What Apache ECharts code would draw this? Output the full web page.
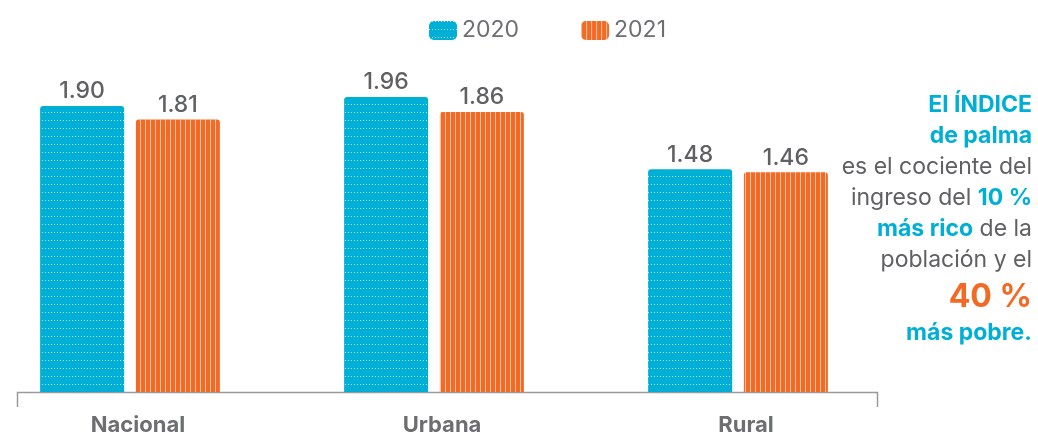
<!DOCTYPE html>
<html><head><meta charset="utf-8">
<script src="https://cdn.jsdelivr.net/npm/echarts@6/dist/echarts.min.js"></script>
<style>html,body{margin:0;padding:0;background:#fff}#c{width:1038px;height:436px}</style>
</head><body><div id="c"></div>
<script>
const categories = ['Nacional', 'Urbana', 'Rural'];
const seriesNames = ['2020', '2021'];
const values2020 = [1.90, 1.96, 1.48];
const values2021 = [1.81, 1.86, 1.46];

const CYAN = '#00AFD6', ORANGE = '#F26A24', GRAY = '#5f6062';
const FONT = 'Inter, "Open Sans", sans-serif';
const chart = echarts.init(document.getElementById('c'));
chart.setOption({
  animation: false,
  legend: {
    top: 14, left: 424, itemWidth: 28, itemHeight: 19, itemGap: 62,
    textStyle: { fontSize: 23, color: '#6d6e71', fontFamily: FONT },
    data: seriesNames
  },
  grid: { left: 130, right: 300, top: 91, bottom: 44 },
  xAxis: {
    type: 'category', data: categories, boundaryGap: false,
    axisLine: { show: false }, axisTick: { show: false },
    axisLabel: { fontSize: 22, fontWeight: 'bold', color: '#6d6e71', fontFamily: FONT, margin: 22, padding: [0,0,0,16] }
  },
  yAxis: { type: 'value', min: 0, max: 2, show: false, splitLine: { show: false } },
  series: [
    { name: seriesNames[0], type: 'bar', data: values2020, barWidth: 84, barGap: '14%',
      itemStyle: { color: CYAN, borderRadius: [3,3,0,0],
        decal: { symbol: 'rect', symbolSize: 1, dashArrayX: [1, 2], dashArrayY: [1, 7], color: 'rgba(255,255,255,0.75)' } },
      label: { show: true, position: 'top', distance: 3, formatter: p => p.value.toFixed(2), fontSize: 23, fontWeight: 500, color: GRAY, fontFamily: FONT } },
    { name: seriesNames[1], type: 'bar', data: values2021, barWidth: 84,
      itemStyle: { color: ORANGE, borderRadius: [3,3,0,0],
        decal: { symbol: 'rect', symbolSize: 1, dashArrayX: [1, 4], dashArrayY: [6, 0], color: 'rgba(255,255,255,0.6)' } },
      label: { show: true, position: 'top', distance: 3, formatter: p => p.value.toFixed(2), fontSize: 23, fontWeight: 500, color: GRAY, fontFamily: FONT } }
  ],
  graphic: [
    { type: 'polyline', shape: { points: [[17.5,407],[17.5,392.5],[877.5,392.5],[877.5,407]] },
      style: { stroke: '#9a9a9a', lineWidth: 1.5, fill: null } },
    { type: 'text', right: 6, top: 94,
      style: {
        text: '{b|El ÍNDICE}\n{b|de palma}\n{n|es el cociente del}\n{n|ingreso del }{b|10 %}\n{b|más rico}{n| de la}\n{n|población y el}\n{o|40 %}\n{b|más pobre.}',
        align: 'right', fontFamily: FONT,
        rich: {
          b: { fontSize: 23, fontWeight: 'bold', fill: CYAN, fontFamily: FONT, lineHeight: 31, align: 'right' },
          n: { fontSize: 23, fill: GRAY, fontFamily: FONT, lineHeight: 31, align: 'right' },
          o: { fontSize: 32, fontWeight: 'bold', fill: ORANGE, fontFamily: FONT, lineHeight: 42, align: 'right' }
        }
      } }
  ]
});
</script></body></html>
